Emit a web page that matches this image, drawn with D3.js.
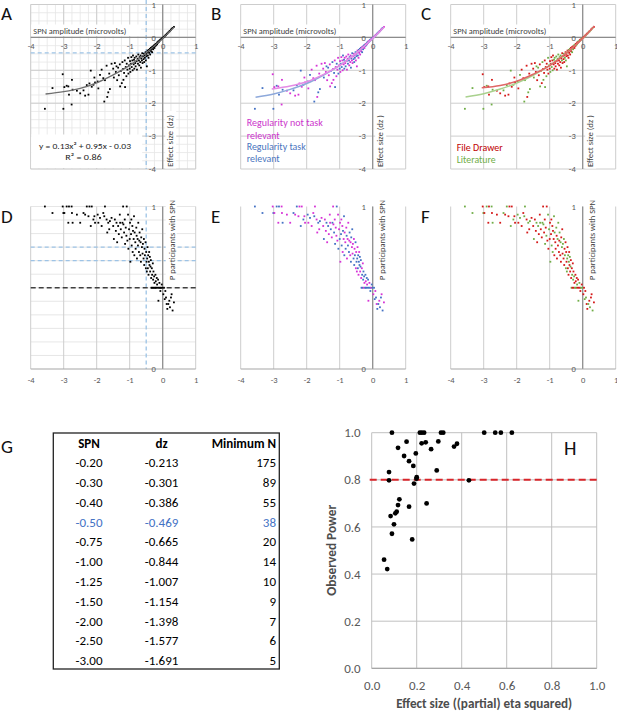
<!DOCTYPE html>
<html><head><meta charset="utf-8">
<script src="https://cdn.jsdelivr.net/npm/d3@7"></script>
<style>body{margin:0;background:#fff}svg{display:block}</style>
</head><body>
<svg id="fig" width="617" height="711"></svg>
<script>
// ---------- DATA ----------
const spnTicks = [-4, -3, -2, -1, 0, 1];
const dzTicks = [1, 0, -1, -2, -3, -4];
const propTicks = [1, 0];

const spnAmplitude = [
 -3.57,-3.34,-3.03,-3.01,-2.98,-2.91,-2.86,-2.84,-2.76,-2.75,-2.73,-2.60,-2.50,-2.40,
 -2.35,-2.30,-2.25,-2.22,-2.18,-2.15,-2.10,-2.07,-2.05,-1.97,-1.95,-1.90,-1.85,-1.80,-1.77,-1.75,-1.70,-1.68,-1.65,-1.62,-1.60,-1.55,
 -1.50,-1.48,-1.45,-1.42,-1.40,-1.38,-1.35,-1.33,-1.30,-1.29,-1.27,-1.24,-1.22,-1.20,-1.19,-1.17,-1.15,-1.14,-1.12,-1.10,-1.09,-1.07,-1.05,-1.04,-1.02,-1.00,-0.99,-0.98,
 -0.96,-0.95,-0.94,-0.92,-0.91,-0.90,-0.88,-0.87,-0.86,-0.85,-0.83,-0.82,-0.80,-0.79,-0.78,-0.76,-0.75,-0.74,-0.72,-0.71,-0.70,-0.68,-0.67,-0.66,-0.65,-0.63,-0.62,-0.61,-0.60,-0.58,-0.57,-0.56,-0.55,-0.54,-0.52,-0.51,-0.50,-0.49,-0.48,
 -0.47,-0.46,-0.45,-0.44,-0.43,-0.42,-0.41,-0.40,-0.39,-0.38,-0.37,-0.36,-0.35,-0.34,-0.33,-0.32,-0.31,-0.30,-0.29,-0.28,-0.27,-0.26,-0.25,
 -0.23,-0.22,-0.21,-0.20,-0.18,-0.17,-0.16,-0.14,-0.13,-0.12,-0.10,-0.08,-0.07,-0.05,-0.03,-0.01,
 0.02,0.04,0.06,0.08,0.10,0.12,0.14,0.17,0.20,0.22,0.25,0.27,0.30,0.34
];
const effectSizeDz = [
 -2.17,-1.54,-1.12,-2.17,-1.51,-1.47,-1.49,-1.74,-2.04,-1.29,-1.59,-1.62,-1.70,-1.61,
 -1.77,-1.45,-1.74,-1.40,-1.01,-1.50,-1.44,-1.22,-1.37,-1.34,-1.55,-1.14,-0.98,-1.24,-1.95,-1.30,-0.86,-1.81,-1.67,-1.10,-1.57,-0.80,
 -0.95,-1.22,-0.78,-1.05,-0.88,-1.30,-0.92,-1.15,-0.82,-1.49,-1.02,-1.39,-0.75,-0.96,-1.29,-1.08,-0.70,-1.51,-0.90,-1.18,-0.80,-0.98,-0.62,-1.10,-0.85,-0.95,-0.72,-1.05,
 -0.80,-0.60,-0.90,-0.70,-1.00,-0.55,-0.82,-0.68,-0.95,-0.62,-0.78,-0.88,-0.58,-0.72,-0.98,-0.65,-0.80,-0.52,-0.70,-0.85,-0.60,-0.75,-0.55,-0.92,-0.64,-0.70,-0.48,-0.78,-0.58,-0.66,-0.50,-0.75,-0.55,-0.62,-0.45,-0.70,-0.50,-0.57,-0.88,
 -0.46,-0.40,-0.55,-0.43,-0.62,-0.38,-0.47,-0.40,-0.35,-0.52,-0.37,-0.32,-0.42,-0.35,-0.30,-0.45,-0.31,-0.28,-0.36,-0.27,-0.30,-0.24,-0.32,
 -0.22,-0.26,-0.20,-0.23,-0.18,-0.21,-0.15,-0.16,-0.12,-0.14,-0.10,-0.09,-0.07,-0.06,-0.04,-0.02,
 0.00,0.02,0.03,0.06,0.07,0.10,0.12,0.15,0.18,0.20,0.23,0.26,0.29,0.32
];
const propWithSpn = [
 1.00,0.96,1.00,0.96,0.96,1.00,0.90,1.00,1.00,0.96,0.90,0.95,0.90,0.96,
 0.95,1.00,0.94,1.00,0.88,1.00,0.92,0.94,0.90,0.95,0.90,0.93,0.88,0.96,0.94,1.00,0.92,0.84,0.90,0.86,0.91,0.93,
 0.88,0.80,0.92,0.85,0.90,0.78,0.88,0.83,0.95,0.90,0.86,0.81,0.90,1.00,0.89,0.84,0.92,0.77,0.87,0.82,1.00,0.79,0.95,0.74,0.86,0.80,0.90,0.66,
 0.83,0.92,0.76,0.88,0.72,0.85,0.80,0.94,0.70,0.84,0.78,0.74,0.87,0.82,0.68,0.80,0.76,0.90,0.72,0.79,0.84,0.70,0.78,0.66,0.81,0.75,0.86,0.71,0.77,0.68,0.80,0.64,0.74,0.70,0.78,0.62,0.72,0.66,0.60,
 0.68,0.75,0.62,0.70,0.58,0.66,0.72,0.64,0.69,0.60,0.63,0.67,0.56,0.50,0.62,0.58,0.50,0.65,0.55,0.60,0.50,0.57,0.53,
 0.50,0.58,0.54,0.50,0.56,0.52,0.50,0.55,0.42,0.50,0.53,0.50,0.48,0.50,0.52,0.50,
 0.46,0.50,0.43,0.48,0.44,0.40,0.37,0.40,0.42,0.38,0.44,0.46,0.36,0.41
];
// 1 = regularity task relevant, 0 = not task relevant
const taskRelevant = [
 1,1,0,1,0,1,0,1,0,0,1,0,0,1,
 0,1,0,0,1,0,1,0,0,1,0,1,0,0,1,0,0,0,1,0,1,0,
 0,1,0,0,1,0,1,0,0,0,1,0,1,0,0,1,0,1,0,0,1,0,0,1,0,1,0,0,
 1,0,1,0,0,1,0,1,1,0,0,1,0,1,0,0,1,0,1,0,1,0,0,1,1,0,1,0,0,1,0,1,0,1,1,0,0,1,0,
 1,0,1,1,0,1,0,1,1,0,1,1,0,1,0,1,1,0,1,1,0,1,0,1,1,0,1,1,0,1,1,0,1,0,1,1,0,1,1,0,1,1,0,1,0,1,1,0,1,1,0,1,0
];
// 1 = file drawer, 0 = literature
const fileDrawer = [
 0,0,1,0,1,0,1,1,0,1,0,1,1,0,
 1,0,1,1,0,1,0,1,1,0,1,0,1,1,0,0,1,1,0,1,0,1,
 1,0,1,1,0,1,0,1,1,0,1,1,0,1,0,1,1,0,1,0,1,1,0,1,0,1,1,0,
 1,1,0,1,0,1,1,0,1,0,1,1,0,1,1,0,1,0,1,1,0,1,0,1,1,0,1,1,0,1,0,1,1,0,1,0,1,1,0,
 0,1,1,0,1,0,1,1,0,1,0,1,1,0,1,0,1,1,0,1,1,0,1,0,1,1,0,1,0,1,1,0,1,0,1,1,0,1,0,1,1,0,1,0,1,1,0,1,0,1,1,0,1
];

// trend lines
const trendSpnAll = [-3.55,-3,-2.5,-2,-1.5,-1,-0.5,0,0.35];
const trendDzAll  = [-1.72,-1.65,-1.55,-1.38,-1.14,-0.85,-0.47,-0.03,0.32];
const trendSpnWide = [-3.55,-3,-2.5,-2,-1.5,-1,-0.5,0,0.3];
const trendDzTask  = [-1.82,-1.72,-1.58,-1.40,-1.15,-0.85,-0.47,-0.04,0.27];
const trendDzLit   = [-1.81,-1.71,-1.57,-1.39,-1.15,-0.85,-0.47,-0.04,0.28];
const trendSpnNarrow = [-3.06,-2.5,-2,-1.5,-1,-0.5,0,0.35];
const trendDzNotTask = [-1.57,-1.48,-1.35,-1.13,-0.86,-0.48,-0.03,0.32];
const trendDzFile    = [-1.53,-1.46,-1.33,-1.12,-0.86,-0.48,-0.03,0.35];

// reference lines
const spnCriterion = -0.5;
const dzCriterion = -0.469;
const propBlueLines = [0.75, 0.667];
const propBlackLine = 0.5;

// table G
const tableHeader = ["SPN", "dz", "Minimum N"];
const tableSpn = ["-0.20","-0.30","-0.40","-0.50","-0.75","-1.00","-1.25","-1.50","-2.00","-2.50","-3.00"];
const tableDz  = ["-0.213","-0.301","-0.386","-0.469","-0.665","-0.844","-1.007","-1.154","-1.398","-1.577","-1.691"];
const tableMinN = [175, 89, 55, 38, 20, 14, 10, 9, 7, 6, 5];
const tableHighlightRow = 3;

// panel H
const etaSquared = [0.090,0.214,0.223,0.233,0.308,0.318,0.500,0.549,0.574,0.623,
 0.155,0.117,0.222,0.240,0.296,0.264,0.366,0.379,0.144,0.196,0.166,0.185,0.289,0.077,0.077,0.200,0.199,0.188,0.432,
 0.123,0.117,0.244,0.166,0.111,0.105,0.084,0.099,0.090,0.180,0.055,0.069];
const observedPower = [1,1,1,1,1,1,1,1,1,1,
 0.962,0.936,0.955,0.959,0.963,0.930,0.941,0.953,0.901,0.912,0.879,0.859,0.840,0.833,0.798,0.811,0.805,0.784,0.798,
 0.717,0.693,0.700,0.686,0.665,0.658,0.646,0.611,0.571,0.547,0.461,0.421];
const powerTicks = [0, 0.2, 0.4, 0.6, 0.8, 1.0];
const powerCriterion = 0.8;

// ---------- DRAWING ----------
const svg = d3.select("#fig");
const FF = "Carlito, Lato, 'Liberation Sans', sans-serif";
const N = spnAmplitude.length;
const idx = d3.range(N);
const panelOffsets = [0, 210, 420];

function addText(parent, x, y, s, o = {}) {
  const t = parent.append("text").attr("x", x).attr("y", y).text(s)
    .attr("font-family", o.family || FF).attr("font-size", o.size || 9)
    .attr("fill", o.fill || "#404040").attr("text-anchor", o.anchor || "start");
  if (o.weight) t.attr("font-weight", o.weight);
  if (o.len) t.attr("textLength", o.len).attr("lengthAdjust", "spacingAndGlyphs");
  if (o.rotate) t.attr("transform", `rotate(${o.rotate},${x},${y})`);
  return t;
}
function vLines(g, data, x, y0, y1, stroke, w, dash) {
  const s = g.selectAll(null).data(data).join("line")
    .attr("x1", d => x(d)).attr("x2", d => x(d)).attr("y1", y0).attr("y2", y1)
    .attr("stroke", stroke).attr("stroke-width", w);
  if (dash) s.attr("stroke-dasharray", dash);
  return s;
}
function hLines(g, data, y, x0, x1, stroke, w, dash) {
  const s = g.selectAll(null).data(data).join("line")
    .attr("y1", d => y(d)).attr("y2", d => y(d)).attr("x1", x0).attr("x2", x1)
    .attr("stroke", stroke).attr("stroke-width", w);
  if (dash) s.attr("stroke-dasharray", dash);
  return s;
}
function styleAxis(sel, size, fill) {
  sel.select(".domain").remove();
  sel.selectAll("text").attr("font-family", FF).attr("font-size", size).attr("fill", fill);
}
function makeX(k) {
  return d3.scaleLinear().domain([-4, 1]).range([30.7 + panelOffsets[k], 195.7 + panelOffsets[k]]);
}

const panelLetters = [["A","B","C"],["D","E","F"]];
const MAGENTA = "#D633D6", BLUE = "#4472C4", RED = "#D41A1A", GREEN = "#70AD47";

// ---- top row ----
function drawTop(k, colorOf, curves, yTitle, legend) {
  const x = makeX(k);
  const y = d3.scaleLinear().domain([1, -4]).range([4.5, 169]);
  const g = svg.append("g");
  const L = x(-4), R = x(1), T = y(1), B = y(-4);
  if (k === 0) {
    const minor = d3.range(-4, 1.0001, 0.25);
    vLines(g, minor, x, T, B, "#e6e6e6", 0.8);
    hLines(g, minor, y, L, R, "#e6e6e6", 0.8);
  }
  vLines(g, d3.range(-4, 2), x, T, B, "#cdcdcd", 1);
  hLines(g, d3.range(-4, 2), y, L, R, "#cdcdcd", 1);
  if (k === 0) {
    vLines(g, [spnCriterion], x, 0, B, "#9DC3E6", 1.3, "4,3");
    hLines(g, [dzCriterion], y, L, R, "#9DC3E6", 1.3, "4,3");
  }
  vLines(g, [0], x, T, B, "#8c8c8c", 1.2);
  hLines(g, [0], y, L, R, "#8c8c8c", 1.2);
  // points
  g.selectAll(null).data(idx).join("rect")
    .attr("x", i => x(spnAmplitude[i]) - 0.9).attr("y", i => y(effectSizeDz[i]) - 0.9)
    .attr("width", 1.8).attr("height", 1.8).attr("fill", i => colorOf(i));
  // curves
  curves.forEach(c => {
    const line = d3.line().x((d, j) => x(c.xs[j])).y(d => y(d)).curve(d3.curveCatmullRom);
    g.append("path").attr("d", line(c.ys)).attr("fill", "none")
      .attr("stroke", c.color).attr("stroke-width", c.w || 1.5);
  });
  // x title box
  g.append("rect").attr("x", L + 0.5).attr("y", 24.5).attr("width", 110).attr("height", 11.5).attr("fill", "#fff");
  addText(g, L + 2.6, 34, "SPN amplitude (microvolts)", { size: 9, len: 93 });
  // y title box
  const yx = x(0) + 2.5;
  g.append("rect").attr("x", yx).attr("y", 111).attr("width", 11).attr("height", 57.5).attr("fill", "#fff");
  addText(g, x(0) + 10.5, 141, yTitle, { size: 9, len: 52, anchor: "middle", rotate: -90 });
  // axes labels
  const xa = g.append("g").attr("transform", `translate(0,${y(0)})`)
    .call(d3.axisBottom(x).tickValues(spnTicks).tickSize(0).tickPadding(6).tickFormat(d => d));
  styleAxis(xa, 8.5, "#595959");
  const ya = g.append("g").attr("transform", `translate(${x(0)},0)`)
    .call(d3.axisLeft(y).tickValues(dzTicks).tickSize(0).tickPadding(7).tickFormat(d => d));
  styleAxis(ya, 8.5, "#595959");
  if (legend) legend(g, x, y);
  addText(svg, panelOffsets[k] + 1, 20, panelLetters[0][k], { size: 19, fill: "#111" });
  return { x, y };
}

// A
drawTop(0, () => "#000",
  [{ xs: trendSpnAll, ys: trendDzAll, color: "#707070", w: 1.3 }], "Effect size (dz)",
  (g, x, y) => {
    g.append("rect").attr("x", x(-4) + 0.5).attr("y", 134.5).attr("width", 111).attr("height", 33.5).attr("fill", "#fff");
    addText(g, 85, 148.5, "y = 0.13x² + 0.95x - 0.03", { size: 9, len: 92, anchor: "middle", fill: "#262626" });
    addText(g, 83.5, 160, "R² = 0.86", { size: 9, len: 36.5, anchor: "middle", fill: "#262626" });
  });
// B
drawTop(1, i => taskRelevant[i] ? BLUE : MAGENTA,
  [{ xs: trendSpnWide, ys: trendDzTask, color: "#8EA9DB" },
   { xs: trendSpnNarrow, ys: trendDzNotTask, color: "#E58BE5" }], "Effect size (dz )",
  (g, x, y) => {
    const lx = x(-4) + 6;
    addText(g, lx, 126.3, "Regularity not task", { size: 9.5, len: 76, fill: "#CC33CC" });
    addText(g, lx, 138.6, "relevant", { size: 9.5, len: 33, fill: "#CC33CC" });
    addText(g, lx, 150.3, "Regularity task", { size: 9.5, len: 59, fill: "#4A75BE" });
    addText(g, lx, 162.3, "relevant", { size: 9.5, len: 33, fill: "#4A75BE" });
  });
// C
drawTop(2, i => fileDrawer[i] ? RED : GREEN,
  [{ xs: trendSpnWide, ys: trendDzLit, color: "#A9D18E" },
   { xs: trendSpnNarrow, ys: trendDzFile, color: "#E06666" }], "Effect size (dz )",
  (g, x, y) => {
    const lx = x(-4) + 6;
    addText(g, lx, 150.5, "File Drawer", { size: 11, len: 46, fill: "#C00000" });
    addText(g, lx, 163, "Literature", { size: 11, len: 39, fill: GREEN });
  });

// ---- middle row ----
function drawMid(k, colorOf) {
  const x = makeX(k);
  const y = d3.scaleLinear().domain([0, 1]).range([369, 206.5]);
  const g = svg.append("g");
  const L = x(-4), R = x(1), T = y(1), B = y(0);
  if (k === 0) hLines(g, d3.range(1, 13).map(j => j / 12), y, L, R, "#e3e3e3", 0.9);
  vLines(g, d3.range(-4, 2), x, T, B, "#cdcdcd", 1);
  if (k === 0) {
    vLines(g, [spnCriterion], x, T, B, "#9DC3E6", 1.3, "4,3");
    hLines(g, propBlueLines, y, L, R, "#9DC3E6", 1.3, "4,3");
    hLines(g, [propBlackLine], y, L, R, "#404040", 1.5, "5,3");
  }
  vLines(g, [0], x, T, B, "#8c8c8c", 1.2);
  hLines(g, [0], y, L, R, "#a6a6a6", 1.2);
  g.selectAll(null).data(idx).join("rect")
    .attr("x", i => x(spnAmplitude[i]) - 0.9).attr("y", i => y(propWithSpn[i]) - 0.9)
    .attr("width", 1.8).attr("height", 1.8).attr("fill", i => colorOf(i));
  g.append("rect").attr("x", x(0) + 3).attr("y", 198).attr("width", 11).attr("height", 85).attr("fill", "#fff");
  addText(g, x(0) + 12, 240, "P participants with SPN", { size: 9, len: 80, anchor: "middle", rotate: -90 });
  const xa = g.append("g").attr("transform", `translate(0,${B})`)
    .call(d3.axisBottom(x).tickValues(spnTicks).tickSize(0).tickPadding(8).tickFormat(d => d));
  styleAxis(xa, 8.5, "#595959");
  const ya = g.append("g").attr("transform", `translate(${x(0)},0)`)
    .call(d3.axisLeft(y).tickValues(propTicks).tickSize(0).tickPadding(7).tickFormat(d => d));
  styleAxis(ya, 8.5, "#595959");
  addText(svg, panelOffsets[k] + 1, 223, panelLetters[1][k], { size: 19, fill: "#111" });
}
drawMid(0, () => "#000");
drawMid(1, i => taskRelevant[i] ? BLUE : MAGENTA);
drawMid(2, i => fileDrawer[i] ? RED : GREEN);

// ---- table G ----
(function () {
  const g = svg.append("g");
  addText(g, 1, 453, "G", { size: 19, fill: "#111" });
  g.append("rect").attr("x", 53.3).attr("y", 433).attr("width", 226).attr("height", 236)
    .attr("fill", "none").attr("stroke", "#222").attr("stroke-width", 1.3);
  const colX = [89, 161.5, 276], anchors = ["middle", "middle", "end"];
  tableHeader.forEach((h, j) => addText(g, colX[j], 448, h, { size: 13, weight: "bold", anchor: anchors[j], fill: "#000" }));
  const rowY = d3.scaleLinear().domain([0, 1]).range([467.2, 487]);
  tableSpn.forEach((s, i) => {
    const fill = i === tableHighlightRow ? "#4472C4" : "#000";
    addText(g, colX[0], rowY(i), s, { size: 13, anchor: "middle", fill });
    addText(g, colX[1], rowY(i), tableDz[i], { size: 13, anchor: "middle", fill });
    addText(g, colX[2], rowY(i), String(tableMinN[i]), { size: 13, anchor: "end", fill });
  });
})();

// ---- panel H ----
(function () {
  const g = svg.append("g");
  const x = d3.scaleLinear().domain([0, 1]).range([371.7, 596.7]);
  const y = d3.scaleLinear().domain([0, 1]).range([668.3, 432.7]);
  vLines(g, powerTicks, x, y(1), y(0), "#c0c0c0", 1);
  hLines(g, powerTicks, y, x(0), x(1), "#c0c0c0", 1);
  hLines(g, [0], y, x(0), x(1), "#a6a6a6", 1.2);
  hLines(g, [powerCriterion], y, x(0) - 2, x(1), "#D9262B", 2, "7,4");
  g.selectAll(null).data(d3.range(etaSquared.length)).join("circle")
    .attr("cx", i => x(etaSquared[i])).attr("cy", i => y(observedPower[i])).attr("r", 2.4).attr("fill", "#000");
  const xa = g.append("g").attr("transform", `translate(0,${y(0)})`)
    .call(d3.axisBottom(x).tickValues(powerTicks).tickSize(0).tickPadding(12).tickFormat(d3.format(".1f")));
  styleAxis(xa, 13, "#595959");
  const ya = g.append("g").attr("transform", `translate(${x(0)},0)`)
    .call(d3.axisLeft(y).tickValues(powerTicks).tickSize(0).tickPadding(11).tickFormat(d3.format(".1f")));
  styleAxis(ya, 13, "#595959");
  addText(g, 484.2, 707.5, "Effect size ((partial) eta squared)", { size: 13, weight: "bold", anchor: "middle", len: 176, fill: "#4d4d4d" });
  addText(g, 336.3, 550.3, "Observed Power", { size: 13, weight: "bold", anchor: "middle", len: 91, fill: "#4d4d4d", rotate: -90 });
  addText(g, 564, 455, "H", { size: 20, fill: "#111" });
})();
</script>
</body></html>
